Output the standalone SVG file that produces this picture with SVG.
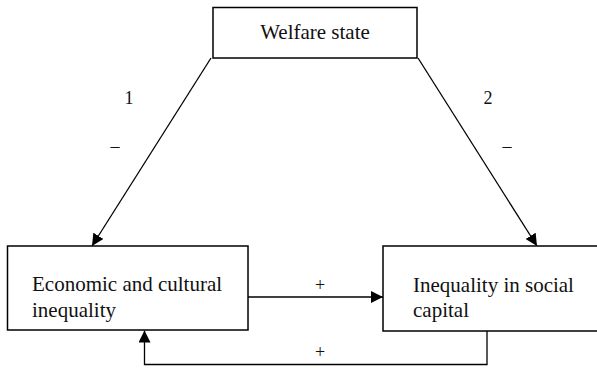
<svg xmlns="http://www.w3.org/2000/svg" width="597" height="368" viewBox="0 0 597 368">
<defs>
<marker id="ah" viewBox="0 0 12 12" refX="12" refY="6" markerWidth="12" markerHeight="12" markerUnits="userSpaceOnUse" orient="auto">
<path d="M0,0 L12,6 L0,12 Z" fill="#000"/>
</marker>
</defs>
<style>
.box{fill:#fff;stroke:#000;stroke-width:1.5}
.t{font-family:"Liberation Serif","Times New Roman",serif;font-size:21px;fill:#111}
.l{font-family:"Liberation Serif","Times New Roman",serif;font-size:18px;fill:#111}
.c{fill:none;stroke:#000;stroke-width:1.3}
</style>
<rect width="597" height="368" fill="#fff"/>
<g id="connectors">
<line class="c" x1="211" y1="58" x2="92" y2="246" marker-end="url(#ah)"/>
<line class="c" x1="418" y1="58" x2="537" y2="246" marker-end="url(#ah)"/>
<line class="c" x1="248" y1="297" x2="383" y2="297" marker-end="url(#ah)"/>
<polyline class="c" points="487,331 487,364.5 144.5,364.5 144.5,330.5" marker-end="url(#ah)"/>
<text class="l" x="129" y="104" text-anchor="middle">1</text>
<text class="l" x="115" y="152" text-anchor="middle">–</text>
<text class="l" x="488" y="104" text-anchor="middle">2</text>
<text class="l" x="507" y="152" text-anchor="middle">–</text>
<text class="l" x="320" y="291" text-anchor="middle">+</text>
<text class="l" x="320" y="358" text-anchor="middle">+</text>
</g>
<g id="welfare">
<rect class="box" x="213" y="7.5" width="204" height="50.5"/>
<text class="t" x="315" y="39" text-anchor="middle">Welfare state</text>
</g>
<g id="econ">
<rect class="box" x="7.5" y="246" width="240.5" height="84"/>
<text class="t" x="32" y="291">Economic and cultural</text>
<text class="t" x="32" y="317">inequality</text>
</g>
<g id="social">
<rect class="box" x="383" y="246" width="220" height="85"/>
<text class="t" x="413" y="292">Inequality in social</text>
<text class="t" x="413" y="317">capital</text>
</g>
</svg>
